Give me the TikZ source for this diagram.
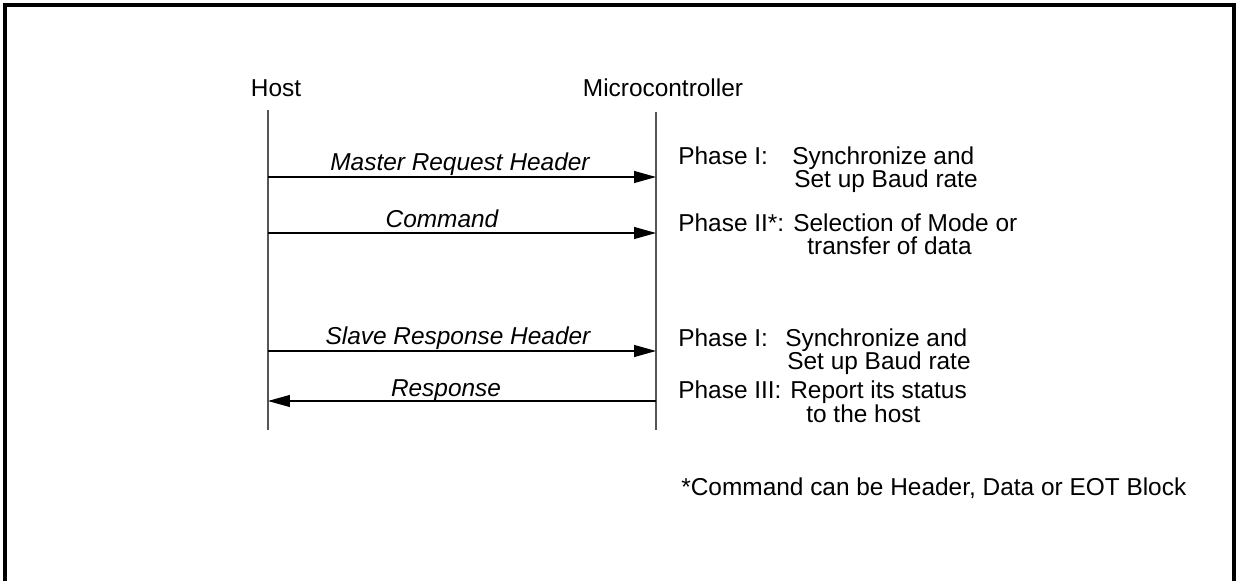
\documentclass[tikz,border=0pt]{standalone}
\usepackage{fontspec}
\setmainfont{Liberation Sans}
\usetikzlibrary{arrows.meta,positioning}
\definecolor{tinta}{HTML}{000000}
\definecolor{vida}{HTML}{555555}

\tikzset{
  txt/.style={inner sep=0pt,font=\fontsize{13.9}{16}\selectfont,text=tinta},
  msgtxt/.style={txt,font=\fontsize{13.9}{16}\selectfont\itshape,anchor=base},
  lifeline/.style={vida,line width=0.6pt},
  msg/.style={tinta,line width=0.6pt,-{Triangle[length=4.4mm,width=2.4mm]}},
  marco/.style={tinta,line width=2.2pt}
}

\begin{document}
\begin{tikzpicture}[x=0.02cm,y=-0.02cm,line cap=butt]
        \useasboundingbox (0,0) rectangle (1242,581);
        % --- marco exterior (abierto abajo) ---
        \draw[marco] (5,581) -- (5,5) -- (1234,5) -- (1234,581);
        % --- participantes ---
        \node[txt,anchor=base] (host) at (276,97) {Host};
        \node[txt,anchor=base] (mcu) at (663,97) {Microcontroller};
        \coordinate (h0) at (268,110);  \coordinate (h1) at (268,430);
        \coordinate (m0) at (656,112);  \coordinate (m1) at (656,430);
        \draw[lifeline] (h0) -- (h1);
        \draw[lifeline] (m0) -- (m1);
        % --- puntos de los mensajes sobre las lineas de vida ---
        \foreach \n/\y in {a/177,b/233,c/351,d/401}{
          \coordinate (h\n) at (268,\y);
          \coordinate (m\n) at (656,\y);
        }
        % --- mensajes ---
        \draw[msg] (ha) -- (ma);
        \draw[msg] (hb) -- (mb);
        \draw[msg] (hc) -- (mc);
        \draw[msg] (md) -- (hd);
        \node[msgtxt] (lreq) at (460,171) {Master Request Header};
        \node[msgtxt] (lcmd) at (442,228) {Command};
        \node[msgtxt] (lslv) at (458,344) {Slave Response Header};
        \node[msgtxt] (lrsp) at (446,396) {Response};
        % --- fases ---
        \foreach \i/\x/\y/\t in {p1/678/165/{Phase I:},p2/678/232/{Phase II*:},
                                 p3/678/346/{Phase I:},p4/678/398/{Phase III:}}{
          \node[txt,anchor=base west] (\i) at (\x,\y) {\t};
        }
        \foreach \i/\x/\y/\t in {d1/792/165/{Synchronize and},d2/794/188/{Set up Baud rate},
                                 d3/793/232/{Selection of Mode or},d4/807/255/{transfer of data},
                                 d5/785/346/{Synchronize and},d6/787/369/{Set up Baud rate},
                                 d7/790/398/{Report its status},d8/806/422/{to the host}}{
          \node[txt,anchor=base west] (\i) at (\x,\y) {\t};
        }
        % --- nota ---
        \node[txt,anchor=base west] (nota) at (681,495) {*Command can be Header, Data or EOT Block};
      \end{tikzpicture}
\end{document}
